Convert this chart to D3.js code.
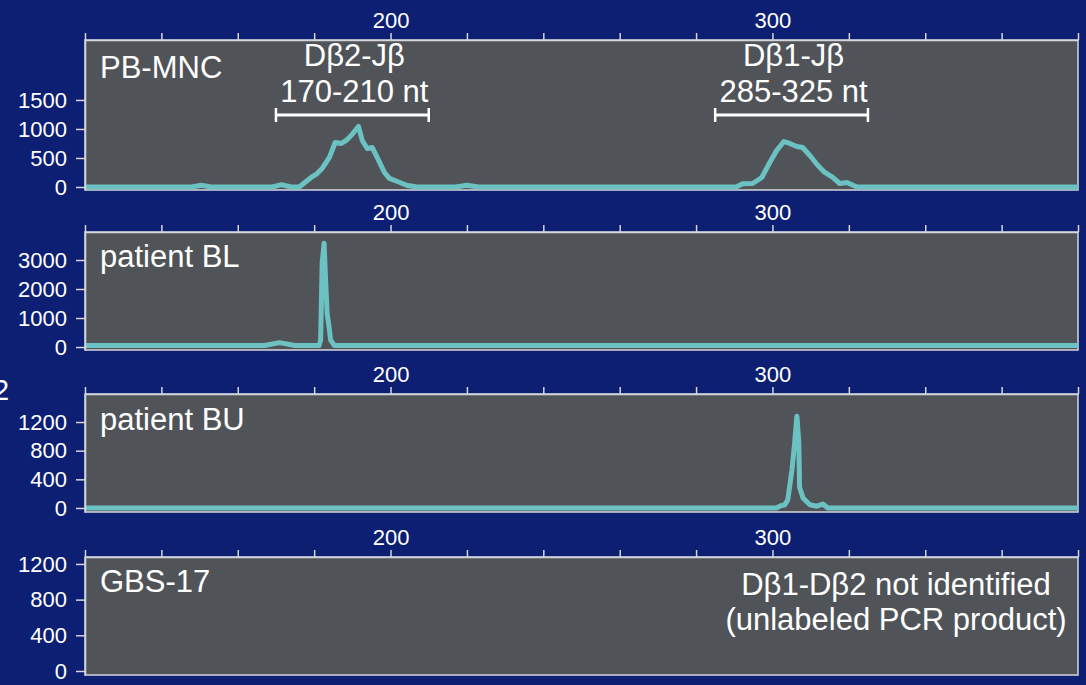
<!DOCTYPE html>
<html>
<head>
<meta charset="utf-8">
<script src="https://cdn.jsdelivr.net/npm/d3@7"></script>
<style>
  html, body { margin: 0; padding: 0; background: #0d1f72; }
  svg { display: block; }
  text { font-family: "Liberation Sans", Arial, sans-serif; fill: #ffffff; }
</style>
</head>
<body>
<svg id="chart" width="1086" height="685"></svg>
<script>
// Fragment sizes (nt) and fluorescence signal for each GeneScan trace
const sizesPB  = [120, 148, 150.4, 153, 169, 171.4, 174, 176.1, 179.2, 180.5, 182.1, 184.0, 185.5, 187.1, 188.4, 189.7, 191.6, 192.6, 193.9, 195.2, 196.5, 198.4, 199.7, 201.8, 204.4, 207, 217, 220, 223, 290.5, 292.2, 294.8, 297.2, 299.3, 301.1, 303.0, 304.5, 306.4, 307.9, 309.8, 311.9, 313.7, 315.8, 317.6, 319.5, 322.1, 380];
const signalPB = [0, 0, 30, 0, 0, 40, 0, 0, 164, 216, 319, 509, 767, 750, 802, 888, 1043, 802, 664, 681, 509, 250, 147, 95, 26, 0, 0, 30, 0, 0, 55, 60, 164, 422, 629, 784, 750, 698, 681, 543, 371, 250, 164, 60, 78, 0, 0];

const sizesBL  = [120, 167, 170.9, 175, 181.3, 181.7, 182.1, 182.6, 183.0, 183.4, 183.8, 184.3, 185.3, 380];
const signalBL = [50, 50, 150, 50, 50, 250, 2900, 3580, 2300, 1150, 800, 250, 50, 50];

const sizesBU  = [120, 301.0, 301.9, 303.2, 304.0, 305.1, 305.8, 306.4, 306.9, 307.1, 308.0, 309.8, 311.6, 313.2, 314.5, 380];
const signalBU = [0, 0, 25, 45, 110, 530, 905, 1280, 905, 290, 140, 45, 25, 55, 0, 0];

const sizesGBS  = [];
const signalGBS = [];

// Axis ticks
const sizeTicks = d3.range(120, 381, 20);
const sizeTickLabels = [200, 300];
const yTicksPB  = [0, 500, 1000, 1500];
const yTicksBL  = [0, 1000, 2000, 3000];
const yTicksBU  = [0, 400, 800, 1200];
const yTicksGBS = [0, 400, 800, 1200];

// Panel names and annotations
const panelNames = ["PB-MNC", "patient BL", "patient BU", "GBS-17"];
const rangeNames  = ["D\u03b22-J\u03b2", "D\u03b21-J\u03b2"];
const rangeBounds = [[170, 210], [285, 325]];
const noteLines = ["D\u03b21-D\u03b22 not identified", "(unlabeled PCR product)"];

const svg = d3.select("#chart");
const W = 1086, H = 685;
const left = 85, right = 1078;
const TEAL = "#6cc2c2", PANEL = "#505458", EDGE = "#d4d6dc";
const FONT = "'Liberation Sans', Arial, sans-serif";

svg.append("rect").attr("width", W).attr("height", H).attr("fill", "#0d1f72");

const x = d3.scaleLinear().domain([120, 380]).range([left, right]);

const panels = [
  { name: panelNames[0], sizes: sizesPB,  signal: signalPB,  ticks: yTicksPB,  top: 40,  bottom: 190, ymin: -52,  ymax: 2534, labelY: 78 },
  { name: panelNames[1], sizes: sizesBL,  signal: signalBL,  ticks: yTicksBL,  top: 232, bottom: 350, ymin: -103, ymax: 3966, labelY: 267 },
  { name: panelNames[2], sizes: sizesBU,  signal: signalBU,  ticks: yTicksBU,  top: 394, bottom: 512, ymin: -56,  ymax: 1591, labelY: 430 },
  { name: panelNames[3], sizes: sizesGBS, signal: signalGBS, ticks: yTicksGBS, top: 557, bottom: 675, ymin: -45,  ymax: 1278, labelY: 592 }
];

panels.forEach((p, i) => {
  const y = d3.scaleLinear().domain([p.ymin, p.ymax]).range([p.bottom, p.top]);
  const g = svg.append("g");

  g.append("rect")
    .attr("x", left).attr("y", p.top)
    .attr("width", right - left).attr("height", p.bottom - p.top)
    .attr("fill", PANEL).attr("stroke", EDGE).attr("stroke-width", 1.5);

  const clipId = "clip" + i;
  svg.append("clipPath").attr("id", clipId)
    .append("rect").attr("x", left).attr("y", p.top)
    .attr("width", right - left).attr("height", p.bottom - p.top);

  if (p.sizes.length) {
    const pts = p.sizes.map((s, k) => [s, p.signal[k]]);
    g.append("path")
      .datum(pts)
      .attr("clip-path", `url(#${clipId})`)
      .attr("fill", "none")
      .attr("stroke", TEAL)
      .attr("stroke-width", 5)
      .attr("stroke-linejoin", "round")
      .attr("stroke-linecap", "round")
      .attr("d", d3.line().x(d => x(d[0])).y(d => y(d[1])));
  }

  // size axis along the top of each trace
  const xAxis = d3.axisTop(x)
    .tickValues(sizeTicks)
    .tickSize(7).tickSizeOuter(0).tickPadding(5)
    .tickFormat(d => sizeTickLabels.includes(d) ? d : "");
  const gx = g.append("g").attr("transform", `translate(0,${p.top})`).call(xAxis);
  gx.select(".domain").attr("stroke", EDGE).attr("stroke-width", 1.5);
  gx.selectAll(".tick line").attr("stroke", EDGE).attr("stroke-width", 1.5);
  gx.selectAll(".tick text").attr("fill", "#fff").style("font-size", "22px").style("font-family", FONT);

  // signal axis
  const yAxis = d3.axisLeft(y)
    .tickValues(p.ticks)
    .tickSize(9).tickSizeOuter(0).tickPadding(9)
    .tickFormat(d3.format("d"));
  const gy = g.append("g").attr("transform", `translate(${left},0)`).call(yAxis);
  gy.select(".domain").attr("stroke", EDGE).attr("stroke-width", 1.5);
  gy.selectAll(".tick line").attr("stroke", EDGE).attr("stroke-width", 1.5);
  gy.selectAll(".tick text").attr("fill", "#fff").style("font-size", "22px").style("font-family", FONT);

  g.append("text")
    .attr("x", 100).attr("y", p.labelY)
    .style("font-size", "31px")
    .text(p.name);

  if (i === 0) {
    rangeBounds.forEach((b, k) => {
      const cx = x((b[0] + b[1]) / 2);
      const by = p.top + 75;
      g.append("line").attr("x1", x(b[0])).attr("x2", x(b[1]))
        .attr("y1", by).attr("y2", by)
        .attr("stroke", "#fff").attr("stroke-width", 3);
      [b[0], b[1]].forEach(e => {
        g.append("line").attr("x1", x(e)).attr("x2", x(e))
          .attr("y1", by - 7).attr("y2", by + 7)
          .attr("stroke", "#fff").attr("stroke-width", 2.5);
      });
      g.append("text").attr("x", cx + 2).attr("y", 66)
        .attr("text-anchor", "middle").style("font-size", "31px")
        .text(rangeNames[k]);
      g.append("text").attr("x", cx + 2).attr("y", 102)
        .attr("text-anchor", "middle").style("font-size", "31px")
        .text(`${b[0]}-${b[1]} nt`);
    });
  }

  if (i === 3) {
    noteLines.forEach((t, k) => {
      g.append("text").attr("x", 896).attr("y", 595 + k * 35)
        .attr("text-anchor", "middle").style("font-size", "31px")
        .text(t);
    });
  }
});

// trailing character of a side label running off the left edge
svg.append("text").attr("x", -7).attr("y", 400).style("font-size", "29px").text("2");
</script>
</body>
</html>
